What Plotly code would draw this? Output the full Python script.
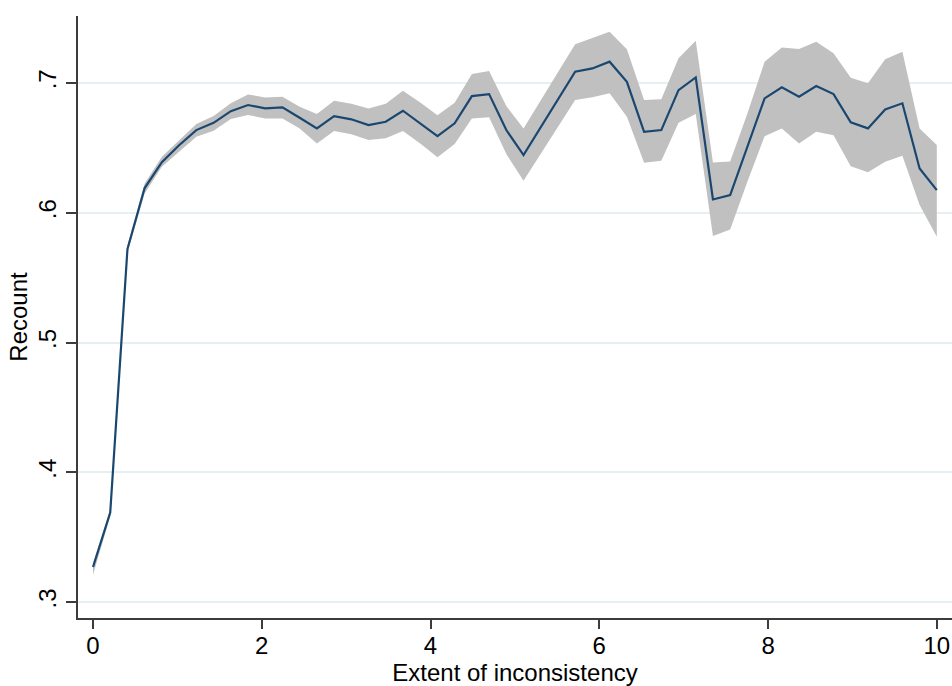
import plotly.graph_objects as go

x_vals = [0.000, 0.204, 0.408, 0.612, 0.816, 1.020, 1.224, 1.429, 1.633, 1.837,
          2.041, 2.245, 2.449, 2.653, 2.857, 3.061, 3.265, 3.469, 3.673, 3.878,
          4.082, 4.286, 4.490, 4.694, 4.898, 5.102, 5.306, 5.510, 5.714, 5.918,
          6.122, 6.327, 6.531, 6.735, 6.939, 7.143, 7.347, 7.551, 7.755, 7.959,
          8.163, 8.367, 8.571, 8.776, 8.980, 9.184, 9.388, 9.592, 9.796, 10.000]

recount = [0.327, 0.369, 0.572, 0.619, 0.639, 0.652, 0.6637, 0.6693, 0.6783, 0.683,
           0.6804, 0.6812, 0.6732, 0.665, 0.6745, 0.672, 0.6675, 0.6701, 0.6786, 0.6689,
           0.6591, 0.6689, 0.6899, 0.6914, 0.6637, 0.6444, 0.6655, 0.6873, 0.7087, 0.7112,
           0.7164, 0.7009, 0.6623, 0.6637, 0.6945, 0.7043, 0.6102, 0.6136, 0.6508, 0.6881,
           0.6966, 0.6894, 0.6976, 0.6914, 0.6696, 0.665, 0.6796, 0.6843, 0.6341, 0.6174]

upper = [0.330, 0.371, 0.575, 0.6226, 0.6431, 0.656, 0.6683, 0.6745, 0.6843, 0.6912,
         0.6888, 0.6894, 0.6817, 0.676, 0.6863, 0.684, 0.6804, 0.684, 0.694, 0.6849,
         0.6752, 0.6847, 0.7069, 0.7092, 0.6822, 0.665, 0.6862, 0.7083, 0.7298, 0.7344,
         0.7395, 0.7259, 0.6868, 0.6875, 0.719, 0.7326, 0.6388, 0.6395, 0.6765, 0.7164,
         0.7274, 0.7261, 0.7317, 0.7228, 0.704, 0.6997, 0.7182, 0.7241, 0.665, 0.6521]

lower = [0.321, 0.366, 0.569, 0.6149, 0.6354, 0.647, 0.6586, 0.6632, 0.6722, 0.6753,
         0.6727, 0.6727, 0.665, 0.6534, 0.6629, 0.6604, 0.656, 0.6573, 0.6629, 0.6534,
         0.6427, 0.6529, 0.6727, 0.6735, 0.6452, 0.6246, 0.6452, 0.6662, 0.6868, 0.6889,
         0.692, 0.674, 0.6385, 0.64, 0.6693, 0.676, 0.582, 0.5871, 0.6238, 0.659,
         0.665, 0.6534, 0.6624, 0.6598, 0.6359, 0.6311, 0.6392, 0.6439, 0.6059, 0.5815]

x_ticks = [0, 2, 4, 6, 8, 10]
x_tick_text = ["0", "2", "4", "6", "8", "10"]
y_ticks = [0.3, 0.4, 0.5, 0.6, 0.7]
y_tick_text = [".3", ".4", ".5", ".6", ".7"]

fig = go.Figure()
fig.add_trace(go.Scatter(x=x_vals + x_vals[::-1], y=upper + lower[::-1],
                         fill="toself", fillcolor="#c0c0c0", line=dict(width=0),
                         mode="lines", hoverinfo="skip", showlegend=False))
fig.add_trace(go.Scatter(x=x_vals, y=recount, mode="lines",
                         line=dict(color="#1a476f", width=2.2), showlegend=False))

font = dict(family="Liberation Sans, Arial, sans-serif", size=24, color="#000000")
fig.update_layout(
    width=952, height=686,
    margin=dict(l=78, r=0, t=16, b=68),
    paper_bgcolor="white", plot_bgcolor="white",
    font=font,
    xaxis=dict(range=[-0.178, 10.18], tickvals=x_ticks, ticktext=x_tick_text,
               showgrid=False, zeroline=False, showline=True, linecolor="#3c3c3c",
               linewidth=2, ticks="outside", ticklen=9, tickwidth=2, tickcolor="#3c3c3c",
               ticklabelstandoff=-4,
               title=dict(text="Extent of inconsistency", standoff=6, font=font)),
    yaxis=dict(range=[0.2877, 0.7516], tickvals=y_ticks, ticktext=y_tick_text,
               tickangle=-90, showgrid=True, gridcolor="#e6eff2", gridwidth=1.5,
               zeroline=False, showline=True, linecolor="#3c3c3c", linewidth=2,
               ticks="outside", ticklen=10, tickwidth=2, tickcolor="#3c3c3c",
               title=dict(text="Recount", standoff=0, font=font)),
)

fig.write_html("out.html")
